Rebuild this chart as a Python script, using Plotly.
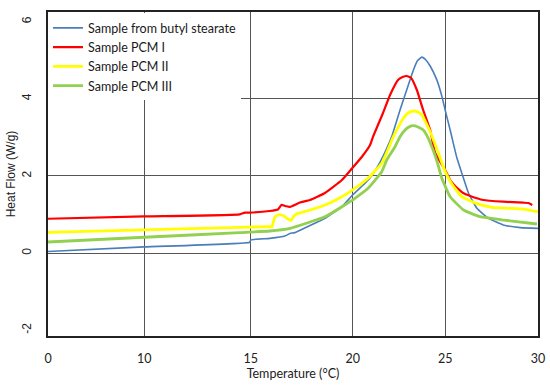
import numpy as np
import plotly.graph_objects as go

# ---- data ----
tick_temps = [0, 10, 15, 20, 25, 30]
tick_labels = ["0", "10", "15", "20", "25", "30"]
y_tick_vals = [-2, 0, 2, 4, 6]
y_tick_labels = ["-2", "0", "2", "4", "6"]
y_grid_vals = [0, 2, 4]

butyl_T = [0, 10, 14.95, 15.0, 15.93, 16.67, 16.92, 17.16, 17.80, 18.64, 19.47, 20.0, 20.67,
           21.05, 21.48, 21.80, 22.11, 22.56, 22.92, 23.28, 23.51, 23.74, 23.97, 24.19, 24.55,
           24.82, 25.0, 25.27, 25.63, 25.90, 26.26, 26.71, 27.34, 28.13, 29.05, 30.0]
butyl_Q = [0.04, 0.16, 0.28, 0.34, 0.38, 0.44, 0.51, 0.53, 0.69, 0.90, 1.20, 1.51, 1.81,
           2.02, 2.36, 2.67, 3.02, 3.71, 4.23, 4.74, 4.99, 5.08, 5.00, 4.85, 4.49,
           4.07, 3.71, 3.19, 2.47, 2.07, 1.55, 1.16, 0.90, 0.73, 0.66, 0.64]

pcm1_T = [0, 10, 14.48, 14.72, 14.95, 15.93, 16.33, 16.51, 16.67, 16.92, 17.41, 17.90, 18.64,
          19.47, 19.97, 20.50, 20.94, 21.10, 21.48, 21.64, 22.02, 22.45, 22.70, 22.92, 23.16,
          23.47, 23.81, 24.19, 24.46, 25.0, 25.27, 25.54, 25.65, 25.97, 26.35, 27.05, 28.13,
          29.21, 29.48, 29.69]
pcm1_Q = [0.89, 0.95, 1.005, 1.05, 1.05, 1.09, 1.13, 1.25, 1.22, 1.20, 1.31, 1.376, 1.557,
          1.894, 2.198, 2.498, 2.802, 3.017, 3.45, 3.631, 4.098, 4.487, 4.565, 4.591, 4.539,
          4.228, 3.709, 3.191, 2.594, 2.154, 1.894, 1.739, 1.687, 1.557, 1.48, 1.376, 1.332,
          1.306, 1.298, 1.246]

pcm2_T = [0, 10, 14.48, 15.93, 16.03, 16.18, 16.33, 16.52, 16.67, 16.82, 16.97, 17.11, 17.26,
          17.80, 18.64, 19.47, 20.12, 20.83, 21.57, 22.20, 22.74, 22.99, 23.28, 23.53, 23.74,
          23.97, 24.19, 24.64, 25.0, 25.36, 25.90, 26.67, 27.52, 28.40, 29.31, 30.0]
pcm2_Q = [0.538, 0.60, 0.668, 0.684, 0.684, 0.927, 0.987, 0.987, 0.943, 0.883, 0.844, 0.961, 1.013,
          1.098, 1.246, 1.461, 1.679, 1.939, 2.327, 3.017, 3.494, 3.631, 3.683, 3.657, 3.579,
          3.372, 3.147, 2.587, 2.110, 1.79, 1.461, 1.29, 1.187, 1.161, 1.135, 1.073]

pcm3_T = [0, 10, 14.48, 15.93, 16.92, 17.80, 18.64, 19.47, 20.12, 20.83, 21.57, 21.84, 22.29,
          22.56, 22.83, 23.04, 23.28, 23.53, 23.82, 24.08, 24.35, 24.57, 24.82, 25.27, 25.99,
          26.89, 28.15, 29.94]
pcm3_Q = [0.287, 0.41, 0.528, 0.572, 0.642, 0.787, 0.943, 1.202, 1.42, 1.679, 2.11, 2.413, 2.758,
          3.017, 3.191, 3.268, 3.302, 3.268, 3.191, 2.983, 2.67, 2.36, 1.939, 1.461, 1.117,
          0.943, 0.857, 0.754]

series_names = ["Sample from butyl stearate", "Sample PCM I", "Sample PCM II", "Sample PCM III"]

# ---- layout helpers (the x axis of the original is not evenly spaced) ----
tick_pos = [0, 96, 202.5, 304.2, 396.5, 489.2]


def to_pos(t):
    return np.interp(np.asarray(t, dtype=float), tick_temps, tick_pos)


colors = ["#4a7ebb", "#ff0000", "#ffff00", "#92d050"]
widths = [1.6, 2.2, 2.8, 2.8]
data = [(butyl_T, butyl_Q), (pcm1_T, pcm1_Q), (pcm2_T, pcm2_Q), (pcm3_T, pcm3_Q)]

fig = go.Figure()
for (T, Q), name, c, w in zip(data, series_names, colors, widths):
    fig.add_trace(go.Scatter(
        x=to_pos(T), y=Q, mode="lines", name=name,
        line=dict(color=c, width=w, shape="spline", smoothing=0.4),
        hoverinfo="skip",
    ))

fig.update_layout(
    width=550, height=389,
    margin=dict(l=48, r=12, t=12, b=53),
    paper_bgcolor="white", plot_bgcolor="white",
    showlegend=True,
    legend=dict(
        x=0.0, y=0.996, xanchor="left", yanchor="top",
        bgcolor="white", borderwidth=0,
        font=dict(family="Lato", size=12.5, color="#1a1a1a"),
        tracegroupgap=0, itemwidth=30,
    ),
    xaxis=dict(
        range=[0, tick_pos[-1]],
        tickmode="array", tickvals=tick_pos, ticktext=tick_labels,
        showgrid=True, gridcolor="#555", gridwidth=1,
        showline=True, linecolor="#222", linewidth=2, mirror=True,
        ticks="", ticklabelstandoff=10, automargin=False,
        tickfont=dict(family="Lato", size=12.5, color="#222"),
        title=dict(text="Temperature (°C)", font=dict(family="Lato", size=12.5, color="#222"),
                   standoff=3),
        zeroline=False,
    ),
    yaxis=dict(
        range=[-2.15, 6.25],
        tickmode="array", tickvals=y_tick_vals, ticktext=y_tick_labels,
        tickangle=-90,
        showgrid=False,
        minor=dict(tickmode="array", tickvals=y_grid_vals, showgrid=True,
                   gridcolor="#555", gridwidth=1, ticks=""),
        showline=True, linecolor="#222", linewidth=2, mirror=True,
        ticks="", ticklabelstandoff=10, automargin=False,
        tickfont=dict(family="Liberation Sans", size=12, color="#222"),
        title=dict(text="Heat Flow (W/g)", font=dict(family="Liberation Sans", size=12, color="#222"),
                   standoff=2),
        zeroline=False,
    ),
)

fig.write_html("out.html", config={"displayModeBar": False},
               post_script="document.body.style.margin='0';")
